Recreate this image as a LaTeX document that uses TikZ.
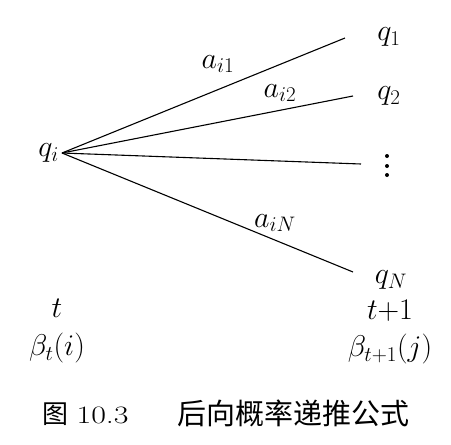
\RequirePackage{fix-cm}
\documentclass[tikz,border=0pt]{standalone}
\usepackage{graphicx}
\usepackage{fontspec}
\newfontfamily\cjk{Noto Sans CJK SC}
\usetikzlibrary{positioning}

\begin{document}
\begin{tikzpicture}[x=1pt,y=-1pt,font=\fontsize{30}{36}\selectfont,
        trans/.style={line width=1.1pt}]
        \useasboundingbox (0,0) rectangle (451,445);
        \node[anchor=east,inner sep=3pt]
        (qi) at (62,153) {$q_i$};
        \node (q1) at (389,37) {$q_1$};
        \node (q2) at (389,96) {$q_2$};
        \node (qN) at (391,280) {$q_N$};
        \coordinate (qdots) at (387,166);
        \foreach \dy in {-10,0,9}
        \fill ([yshift=-\dy pt]qdots) circle (2pt);
        % ends of the transitions
        \coordinate (e1) at (345,38);
        \coordinate (e2) at (353,96);
        \coordinate (e3) at (361,164);
        \coordinate (eN) at (353,272);
        \draw[trans] (qi.east) -- (e1);
        \draw[trans] (qi.east) -- (e2);
        \draw[trans] (qi.east) -- (e3);
        \draw[trans] (qi.east) -- (eN);
        \node (ai1) at (218,64) {$a_{i1}$};
        \node (ai2) at (280,93) {$a_{i2}$};
        \node (aiN) at (275,223) {$a_{iN}$};
        % times
        \node[node distance=40pt]
        (t) at (57,308) {$t$};
        \node[node distance=40pt,below of=t]
        (bt) {$\beta_t(i)$};
        \node[node distance=38pt]
        (t1) at (390,311) {$t{+}1$};
        \node[node distance=38pt,below of=t1]
        (bt1) {$\beta_{t+1}(j)$};
        % caption
        \node[anchor=west,inner sep=0pt,font=\fontsize{26}{31}\selectfont\cjk]
        (fig) at (42,414) {图};
        \node[anchor=base west,inner sep=0pt,font=\fontsize{25}{30}\selectfont]
        (num) at ([xshift=8pt]fig.base east) {\scalebox{1.28}[1]{10.3}};
        \node[anchor=west,inner sep=0pt,font=\fontsize{29}{34}\selectfont\cjk]
        (cap) at (177,413) {后向概率递推公式};
\end{tikzpicture}
\end{document}
